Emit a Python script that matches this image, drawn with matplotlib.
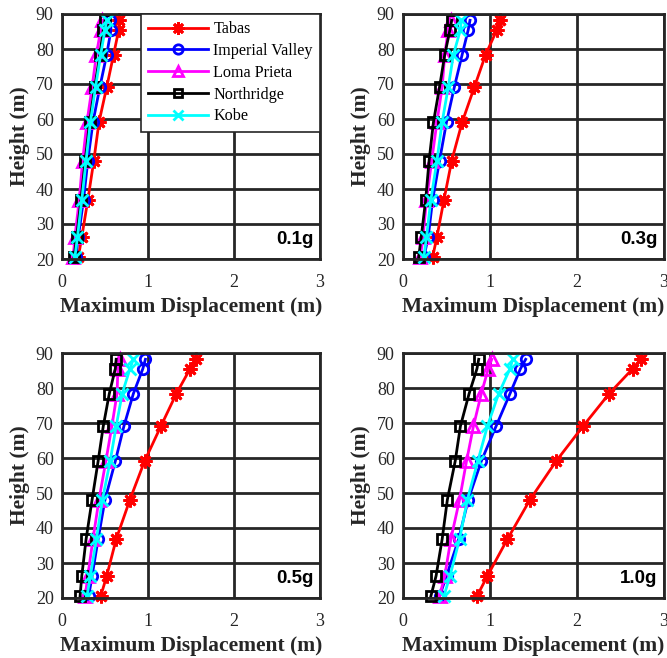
import matplotlib
matplotlib.use("Agg")
import matplotlib.pyplot as plt

heights = [20.5, 26.3, 36.8, 48.1, 59.1, 69.1, 78.4, 85.5, 88.2]
records = ["Tabas", "Imperial Valley", "Loma Prieta", "Northridge", "Kobe"]
pga_labels = ["0.1g", "0.3g", "0.5g", "1.0g"]

tabas_01 = [0.19, 0.23, 0.30, 0.37, 0.43, 0.52, 0.60, 0.66, 0.66]
iv_01 = [0.16, 0.19, 0.25, 0.30, 0.36, 0.44, 0.52, 0.57, 0.56]
lp_01 = [0.13, 0.15, 0.20, 0.24, 0.29, 0.35, 0.40, 0.45, 0.47]
nr_01 = [0.14, 0.17, 0.22, 0.27, 0.32, 0.38, 0.44, 0.48, 0.50]
kobe_01 = [0.15, 0.18, 0.23, 0.28, 0.33, 0.39, 0.45, 0.50, 0.52]

tabas_03 = [0.34, 0.39, 0.47, 0.56, 0.68, 0.82, 0.95, 1.08, 1.11]
iv_03 = [0.24, 0.29, 0.34, 0.42, 0.50, 0.59, 0.68, 0.75, 0.77]
lp_03 = [0.20, 0.23, 0.27, 0.33, 0.39, 0.45, 0.48, 0.52, 0.55]
nr_03 = [0.18, 0.21, 0.26, 0.30, 0.35, 0.42, 0.48, 0.54, 0.56]
kobe_03 = [0.24, 0.27, 0.32, 0.39, 0.45, 0.52, 0.58, 0.66, 0.67]

tabas_05 = [0.45, 0.52, 0.63, 0.79, 0.96, 1.15, 1.33, 1.49, 1.56]
iv_05 = [0.31, 0.35, 0.42, 0.50, 0.62, 0.72, 0.83, 0.94, 0.97]
lp_05 = [0.27, 0.30, 0.36, 0.43, 0.51, 0.58, 0.64, 0.65, 0.67]
nr_05 = [0.21, 0.23, 0.28, 0.35, 0.42, 0.48, 0.55, 0.62, 0.63]
kobe_05 = [0.29, 0.33, 0.40, 0.47, 0.56, 0.63, 0.70, 0.79, 0.83]

tabas_10 = [0.85, 0.97, 1.20, 1.46, 1.76, 2.07, 2.37, 2.64, 2.73]
iv_10 = [0.42, 0.50, 0.64, 0.75, 0.90, 1.07, 1.23, 1.35, 1.41]
lp_10 = [0.42, 0.48, 0.55, 0.65, 0.73, 0.81, 0.90, 0.98, 1.02]
nr_10 = [0.32, 0.38, 0.45, 0.51, 0.60, 0.66, 0.76, 0.85, 0.87]
kobe_10 = [0.47, 0.54, 0.65, 0.74, 0.86, 0.97, 1.10, 1.23, 1.26]

panels = [
    [tabas_01, iv_01, lp_01, nr_01, kobe_01],
    [tabas_03, iv_03, lp_03, nr_03, kobe_03],
    [tabas_05, iv_05, lp_05, nr_05, kobe_05],
    [tabas_10, iv_10, lp_10, nr_10, kobe_10],
]

colors = ["#ff0000", "#0000ff", "#ff00ff", "#000000", "#00ffff"]
markers = [(8, 2, 0), "o", "^", "s", "x"]
msizes = [10, 7.5, 8.5, 6.5, 8.5]

W, H = 667, 658
fig = plt.figure(figsize=(W / 100, H / 100), dpi=100)

boxes = [
    (62, 14, 320, 259),
    (403, 14, 664, 259),
    (62, 353, 320, 598),
    (403, 353, 664, 598),
]

serif = ["Liberation Serif", "DejaVu Serif"]
dark = "#262626"

for i, (data, (x0, y0, x1, y1)) in enumerate(zip(panels, boxes)):
    ax = fig.add_axes([x0 / W, 1 - y1 / H, (x1 - x0) / W, (y1 - y0) / H])
    for vals, c, m, ms, name in zip(data, colors, markers, msizes, records):
        ax.plot(vals, heights, color=c, marker=m, markersize=ms, lw=2,
                markerfacecolor="none", markeredgecolor=c, markeredgewidth=2,
                label=name, clip_on=False)
    ax.set_xlim(0, 3)
    ax.set_ylim(20, 90)
    ax.set_xticks([0, 1, 2, 3])
    ax.set_yticks([20, 30, 40, 50, 60, 70, 80, 90])
    ax.grid(True, color=dark, lw=2)
    ax.set_axisbelow(True)
    for s in ax.spines.values():
        s.set_linewidth(2)
        s.set_color(dark)
    ax.tick_params(direction="in", length=0, labelsize=13, labelcolor=dark)
    ax.tick_params(axis="x", pad=11)
    ax.tick_params(axis="y", pad=6)
    for lab in ax.get_xticklabels() + ax.get_yticklabels():
        lab.set_fontfamily(serif)
    ax.set_xlabel("Maximum Displacement (m)", fontsize=15.5, fontweight="bold",
                  family=serif, labelpad=4, color=dark)
    ax.set_ylabel("Height (m)", fontsize=15.5, fontweight="bold",
                  family=serif, labelpad=4, color=dark)
    ax.text(0.975, 0.045, pga_labels[i], transform=ax.transAxes, ha="right",
            va="bottom", fontsize=13.5, fontweight="bold", color="black",
            family=["Liberation Sans", "DejaVu Sans"])
    if i == 0:
        leg = ax.legend(loc="upper right", bbox_to_anchor=(1.0, 1.0),
                        prop={"family": serif, "size": 11.6}, fancybox=False,
                        framealpha=1, edgecolor=dark, handlelength=3.7,
                        borderaxespad=0, labelspacing=0.36, handletextpad=0.35,
                        borderpad=0.45, markerscale=0.9)
        leg.get_frame().set_linewidth(1.2)

fig.savefig("out.png", dpi=100)
